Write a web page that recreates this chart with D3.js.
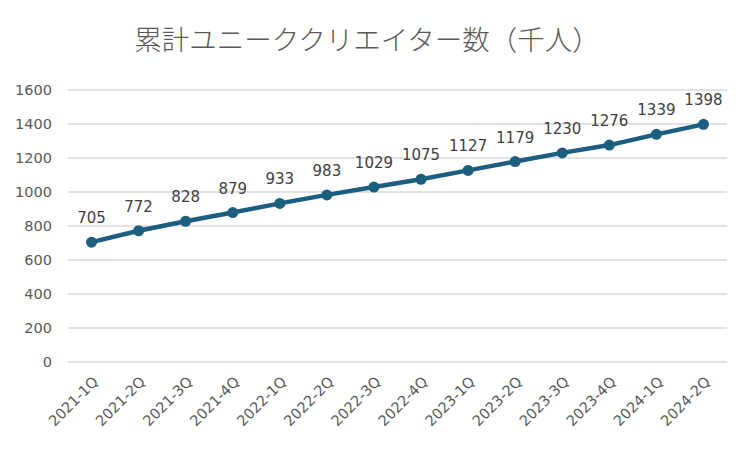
<!DOCTYPE html>
<html>
<head>
<meta charset="utf-8">
<script src="https://cdn.jsdelivr.net/npm/d3@7"></script>
<style>
  body { margin: 0; background: #fff; }
  svg { display: block; }
</style>
</head>
<body>
<div id="container"></div>
<script>
var quarters = ["2021-1Q", "2021-2Q", "2021-3Q", "2021-4Q", "2022-1Q", "2022-2Q", "2022-3Q",
    "2022-4Q", "2023-1Q", "2023-2Q", "2023-3Q", "2023-4Q", "2024-1Q", "2024-2Q"];
var creators = [705, 772, 828, 879, 933, 983, 1029, 1075, 1127, 1179, 1230, 1276, 1339, 1398];
var yTicks = [0, 200, 400, 600, 800, 1000, 1200, 1400, 1600];
var title = "累計ユニーククリエイター数（千人）";

var W = 750, H = 449;
// plot area edges (note: "top" is reserved on window, so use plotTop etc.)
var plotLeft = 68, plotRight = 727, plotTop = 90, plotBottom = 362;
var lineColor = "#1b5e80";
var font = "DejaVu Sans, Verdana, sans-serif";

var svg = d3.select("#container").append("svg")
    .attr("width", W)
    .attr("height", H);

var x = d3.scaleBand().domain(quarters).range([plotLeft, plotRight]);
var y = d3.scaleLinear().domain([0, 1600]).range([plotBottom, plotTop]);

// gridlines
svg.append("g")
    .selectAll("line")
    .data(yTicks)
    .enter()
    .append("line")
    .attr("x1", plotLeft)
    .attr("x2", plotRight)
    .attr("y1", d => y(d))
    .attr("y2", d => y(d))
    .attr("stroke", "#d9d9d9")
    .attr("stroke-width", 1.3);

// y axis labels
var yAxis = svg.append("g")
    .attr("transform", "translate(" + (plotLeft - 16) + ",0)")
    .call(d3.axisLeft(y).tickValues(yTicks).tickFormat(d3.format("d")).tickSize(0).tickPadding(0));
yAxis.select(".domain").remove();
yAxis.selectAll("text")
    .attr("fill", "#595959")
    .style("font-family", font)
    .style("font-size", "14.5px");

// x axis labels, rotated
var xAxis = svg.append("g")
    .attr("transform", "translate(0," + plotBottom + ")")
    .call(d3.axisBottom(x).tickSize(0).tickPadding(0));
xAxis.select(".domain").remove();
xAxis.selectAll("text")
    .attr("fill", "#595959")
    .style("font-family", font)
    .style("font-size", "14.5px")
    .attr("text-anchor", "end")
    .attr("y", 0)
    .attr("dy", "0.35em")
    .attr("transform", "translate(4,17) rotate(-45)");

var px = d => x(d) + x.bandwidth() / 2;
var pts = quarters.map((q, i) => ({ q: q, v: creators[i] }));

var lg = d3.line()
    .x(d => px(d.q))
    .y(d => y(d.v));

svg.append("path")
    .datum(pts)
    .attr("d", lg)
    .attr("fill", "none")
    .attr("stroke", lineColor)
    .attr("stroke-width", 4.5)
    .attr("stroke-linejoin", "round");

svg.selectAll("circle.pt")
    .data(pts)
    .enter()
    .append("circle")
    .attr("class", "pt")
    .attr("cx", d => px(d.q))
    .attr("cy", d => y(d.v))
    .attr("r", 5.5)
    .attr("fill", lineColor);

// data labels
svg.selectAll("text.lbl")
    .data(pts)
    .enter()
    .append("text")
    .attr("class", "lbl")
    .attr("x", d => px(d.q))
    .attr("y", d => y(d.v) - 19)
    .attr("text-anchor", "middle")
    .attr("fill", "#404040")
    .style("font-family", font)
    .style("font-size", "15px")
    .text(d => d.v);

// title
svg.append("text")
    .attr("x", 367)
    .attr("y", 50)
    .attr("text-anchor", "middle")
    .attr("fill", "#595959")
    .style("font-family", "Noto Sans CJK JP, sans-serif")
    .style("font-weight", "300")
    .style("font-size", "27.5px")
    .text(title);
</script>
</body>
</html>
